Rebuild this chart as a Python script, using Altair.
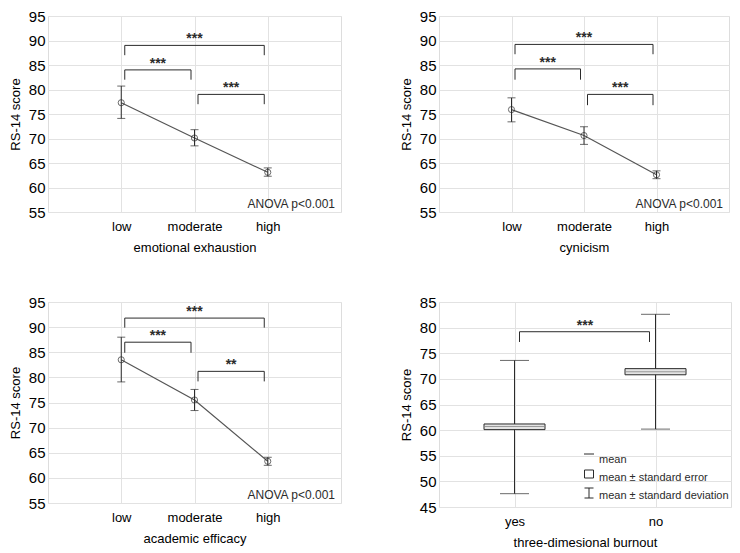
import altair as alt
import pandas as pd

FONT = "Liberation Sans"
INK = "#2b2b2b"

# ---------------- data ----------------
levels = ["low", "moderate", "high"]

ee_mean = [77.3, 70.1, 63.1]
ee_lo = [74.1, 68.5, 62.3]
ee_hi = [80.7, 71.8, 64.0]
ee_brackets = [("low", "moderate", 84.0, 82.0, "***"),
               ("moderate", "high", 79.0, 77.0, "***"),
               ("low", "high", 89.0, 87.0, "***")]

cy_mean = [75.9, 70.6, 62.6]
cy_lo = [73.4, 68.8, 61.8]
cy_hi = [78.3, 72.4, 63.4]
cy_brackets = [("low", "moderate", 84.2, 82.0, "***"),
               ("moderate", "high", 79.0, 76.8, "***"),
               ("low", "high", 89.2, 87.2, "***")]

ae_mean = [83.5, 75.5, 63.3]
ae_lo = [79.1, 73.4, 62.5]
ae_hi = [88.0, 77.6, 64.1]
ae_brackets = [("low", "moderate", 87.0, 84.9, "***"),
               ("moderate", "high", 81.2, 79.2, "**"),
               ("low", "high", 91.8, 89.9, "***")]

burnout_groups = ["yes", "no"]
bo_mean = [60.7, 71.4]
bo_se_lo = [60.1, 70.8]
bo_se_hi = [61.2, 72.0]
bo_sd_lo = [47.6, 60.2]
bo_sd_hi = [73.6, 82.6]
bo_brackets = [("yes", "no", 79.2, 77.2, "***")]

anova_note = "ANOVA p<0.001"
y_title = "RS-14 score"
legend_labels = ["mean", "mean \u00b1 standard error", "mean \u00b1 standard deviation"]


def label_expr(cats):
    arr = "[" + ",".join("'" + c + "'" for c in cats) + "]"
    return arr + "[datum.value]"


def make_axes(cats, xtitle, yvals):
    xa = alt.Axis(values=list(range(len(cats))), labelExpr=label_expr(cats), title=xtitle,
                  grid=True, ticks=False, domain=False, labelFontSize=13, labelPadding=8,
                  titlePadding=8, titleFontSize=13, titleFontWeight="normal",
                  gridColor="#e2e2e2", labelOverlap=False)
    ya = alt.Axis(values=yvals, title=y_title, grid=True, ticks=False, domain=False,
                  labelFontSize=15, labelPadding=3, titlePadding=6, titleFontSize=13,
                  titleFontWeight="normal", gridColor="#e2e2e2", labelOverlap=False)
    return xa, ya


class Enc:
    def __init__(self, xs, ys, xa, ya):
        self.xs, self.ys, self.xa, self.ya = xs, ys, xa, ya

    def X(self, f):
        return alt.X(f, scale=self.xs, axis=self.xa)

    def Y(self, f):
        return alt.Y(f, scale=self.ys, axis=self.ya)


def bracket_layers(cats, brackets, e, inset_l, inset_r):
    bdf = pd.DataFrame({
        "x1": [cats.index(b[0]) for b in brackets],
        "x2": [cats.index(b[1]) for b in brackets],
        "top": [b[2] for b in brackets],
        "leg": [b[3] for b in brackets],
        "label": [b[4] for b in brackets],
    })
    bdf["mid"] = (bdf["x1"] + bdf["x2"]) / 2
    base = alt.Chart(bdf)
    horiz = base.mark_rule(color=INK, strokeWidth=1, xOffset=inset_l, x2Offset=-inset_r).encode(
        x=e.X("x1:Q"), x2="x2:Q", y=e.Y("top:Q"))
    leg_l = base.mark_rule(color=INK, strokeWidth=1, xOffset=inset_l).encode(
        x=e.X("x1:Q"), y=e.Y("top:Q"), y2="leg:Q")
    leg_r = base.mark_rule(color=INK, strokeWidth=1, xOffset=-inset_r).encode(
        x=e.X("x2:Q"), y=e.Y("top:Q"), y2="leg:Q")
    stars = base.mark_text(font=FONT, fontSize=14, fontWeight="bold", color=INK, dy=-2,
                           baseline="alphabetic").encode(
        x=e.X("mid:Q"), y=e.Y("top:Q"), text="label:N")
    return [horiz, leg_l, leg_r, stars]


def line_panel(xtitle, means, lo, hi, brackets, w, h):
    df = pd.DataFrame({"pos": list(range(len(levels))), "mean": means, "lo": lo, "hi": hi})
    xs = alt.Scale(domain=[-1, len(levels)], nice=False, zero=False)
    ys = alt.Scale(domain=[55, 95], nice=False, zero=False)
    xa, ya = make_axes(levels, xtitle, list(range(55, 96, 5)))
    e = Enc(xs, ys, xa, ya)
    base = alt.Chart(df)
    line = base.mark_line(color="#555555", strokeWidth=1.2).encode(x=e.X("pos:Q"), y=e.Y("mean:Q"))
    err = base.mark_rule(color=INK, strokeWidth=1).encode(x=e.X("pos:Q"), y=e.Y("lo:Q"), y2="hi:Q")
    cap_lo = base.mark_tick(color=INK, size=8, thickness=1, orient="horizontal").encode(
        x=e.X("pos:Q"), y=e.Y("lo:Q"))
    cap_hi = base.mark_tick(color=INK, size=8, thickness=1, orient="horizontal").encode(
        x=e.X("pos:Q"), y=e.Y("hi:Q"))
    pts = base.mark_point(shape="circle", size=38, filled=False, color=INK, strokeWidth=1).encode(
        x=e.X("pos:Q"), y=e.Y("mean:Q"))
    note = alt.Chart(pd.DataFrame({"t": [anova_note]})).mark_text(
        font=FONT, fontSize=12, color=INK, align="right", baseline="alphabetic").encode(
        x=alt.value(w - 6), y=alt.value(h - 4), text="t:N")
    layers = [line, err, cap_lo, cap_hi, pts] + bracket_layers(levels, brackets, e, 3.5, 3.5) + [note]
    return alt.layer(*layers).properties(width=w, height=h)


def burnout_panel(w, h):
    df = pd.DataFrame({"pos": list(range(len(burnout_groups))), "mean": bo_mean,
                       "se_lo": bo_se_lo, "se_hi": bo_se_hi, "sd_lo": bo_sd_lo, "sd_hi": bo_sd_hi})
    xs = alt.Scale(domain=[-0.5, len(burnout_groups) - 0.5], nice=False, zero=False)
    ys = alt.Scale(domain=[45, 85], nice=False, zero=False)
    xa, ya = make_axes(burnout_groups, "three-dimesional burnout", list(range(45, 86, 5)))
    e = Enc(xs, ys, xa, ya)
    base = alt.Chart(df)
    whisk = base.mark_rule(color=INK, strokeWidth=1).encode(
        x=e.X("pos:Q"), y=e.Y("sd_lo:Q"), y2="sd_hi:Q")
    cap_lo = base.mark_tick(color=INK, size=29, thickness=1, orient="horizontal").encode(
        x=e.X("pos:Q"), y=e.Y("sd_lo:Q"))
    cap_hi = base.mark_tick(color=INK, size=29, thickness=1, orient="horizontal").encode(
        x=e.X("pos:Q"), y=e.Y("sd_hi:Q"))
    box = base.mark_bar(size=61, fill="#e4e4e4", stroke=INK, strokeWidth=1).encode(
        x=e.X("pos:Q"), y=e.Y("se_lo:Q"), y2="se_hi:Q")
    mean = base.mark_tick(color="#7a7a7a", size=59, thickness=1, orient="horizontal").encode(
        x=e.X("pos:Q"), y=e.Y("mean:Q"))
    layers = [whisk, cap_lo, cap_hi, box, mean] + bracket_layers(burnout_groups, bo_brackets, e, 5, 6)

    # legend (drawn inside the plot area)
    sx, tx = 150, 160
    one = pd.DataFrame({"a": [0]})
    layers.append(alt.Chart(one).mark_rule(color=INK, strokeWidth=1).encode(
        x=alt.value(sx - 5), x2=alt.value(sx + 5), y=alt.value(152)))
    layers.append(alt.Chart(one).mark_rect(fill="white", stroke=INK, strokeWidth=1).encode(
        x=alt.value(sx - 4.5), x2=alt.value(sx + 4.5), y=alt.value(168), y2=alt.value(176)))
    layers.append(alt.Chart(one).mark_rule(color=INK, strokeWidth=1).encode(
        x=alt.value(sx), y=alt.value(186), y2=alt.value(196)))
    layers.append(alt.Chart(one).mark_rule(color=INK, strokeWidth=1).encode(
        x=alt.value(sx - 4.5), x2=alt.value(sx + 4.5), y=alt.value(186)))
    layers.append(alt.Chart(one).mark_rule(color=INK, strokeWidth=1).encode(
        x=alt.value(sx - 4.5), x2=alt.value(sx + 4.5), y=alt.value(196)))
    for lab, yy in zip(legend_labels, [158, 176, 194]):
        layers.append(alt.Chart(pd.DataFrame({"t": [lab]})).mark_text(
            font=FONT, fontSize=11, color=INK, align="left", baseline="middle").encode(
            x=alt.value(tx), y=alt.value(yy), text="t:N"))
    return alt.layer(*layers).properties(width=w, height=h)


p1 = line_panel("emotional exhaustion", ee_mean, ee_lo, ee_hi, ee_brackets, 293, 196)
p2 = line_panel("cynicism", cy_mean, cy_lo, cy_hi, cy_brackets, 290, 196)
p3 = line_panel("academic efficacy", ae_mean, ae_lo, ae_hi, ae_brackets, 293, 201)
p4 = burnout_panel(292, 205)

chart = alt.concat(p1, p2, p3, p4, columns=2, spacing={"row": 90, "column": 98},
                   bounds="flush", align="none").properties(
    padding={"left": 0, "top": 0, "right": 0, "bottom": 0}
).configure_view(stroke="#555555", strokeWidth=1).configure_axis(
    labelFont=FONT, titleFont=FONT, labelColor=INK, titleColor=INK, titleFontWeight="normal"
).configure(background="white")

chart.save("out.html", embed_options={"renderer": "svg", "actions": False})
